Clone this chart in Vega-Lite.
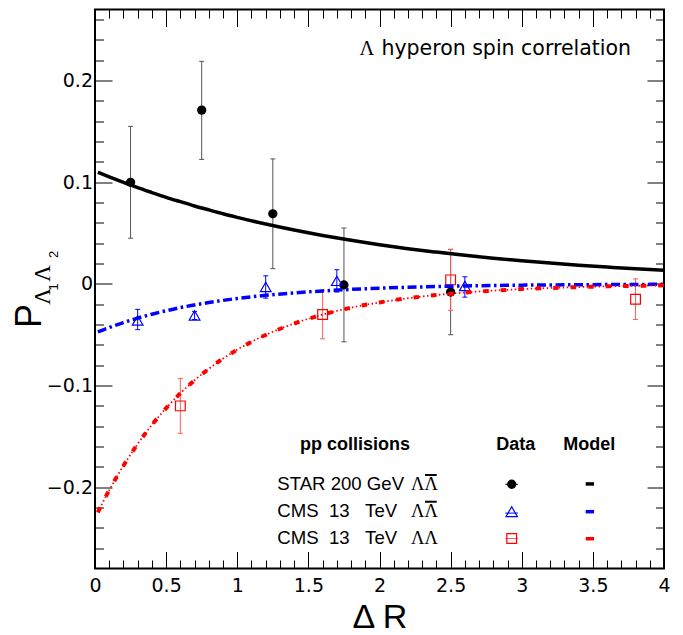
{
  "$schema": "https://vega.github.io/schema/vega-lite/v6.json",
  "width": 569,
  "height": 559,
  "autosize": "none",
  "padding": {"left": 95, "top": 9.5, "right": 19, "bottom": 66.5},
  "background": "white",
  "datasets": {
    "points": [
      {"series": "STAR 200 GeV ΛΛ̄", "x": 0.25, "y": 0.100, "lo": 0.045, "hi": 0.155},
      {"series": "STAR 200 GeV ΛΛ̄", "x": 0.75, "y": 0.171, "lo": 0.1225, "hi": 0.219},
      {"series": "STAR 200 GeV ΛΛ̄", "x": 1.25, "y": 0.069, "lo": 0.015, "hi": 0.123},
      {"series": "STAR 200 GeV ΛΛ̄", "x": 1.75, "y": -0.001, "lo": -0.057, "hi": 0.055},
      {"series": "STAR 200 GeV ΛΛ̄", "x": 2.5, "y": -0.008, "lo": -0.050, "hi": 0.034},
      {"series": "CMS 13 TeV ΛΛ̄", "x": 0.3, "y": -0.036, "lo": -0.045, "hi": -0.025},
      {"series": "CMS 13 TeV ΛΛ̄", "x": 0.7, "y": -0.031, "lo": -0.035, "hi": -0.027},
      {"series": "CMS 13 TeV ΛΛ̄", "x": 1.2, "y": -0.003, "lo": -0.014, "hi": 0.008},
      {"series": "CMS 13 TeV ΛΛ̄", "x": 1.7, "y": 0.003, "lo": -0.008, "hi": 0.014},
      {"series": "CMS 13 TeV ΛΛ̄", "x": 2.6, "y": -0.002, "lo": -0.013, "hi": 0.007},
      {"series": "CMS 13 TeV ΛΛ", "x": 0.6, "y": -0.120, "lo": -0.147, "hi": -0.093},
      {"series": "CMS 13 TeV ΛΛ", "x": 1.6, "y": -0.030, "lo": -0.054, "hi": -0.006},
      {"series": "CMS 13 TeV ΛΛ", "x": 2.5, "y": 0.004, "lo": -0.026, "hi": 0.034},
      {"series": "CMS 13 TeV ΛΛ", "x": 3.8, "y": -0.015, "lo": -0.035, "hi": 0.005}
    ],
    "model_star": [
      {"x": 0.02, "y": 0.1098}, {"x": 0.1, "y": 0.1053}, {"x": 0.2, "y": 0.0999}, {"x": 0.3, "y": 0.0947},
      {"x": 0.4, "y": 0.0899}, {"x": 0.5, "y": 0.0852}, {"x": 0.6, "y": 0.0809}, {"x": 0.7, "y": 0.0767},
      {"x": 0.8, "y": 0.0728}, {"x": 0.9, "y": 0.0690}, {"x": 1.0, "y": 0.0655}, {"x": 1.2, "y": 0.0589},
      {"x": 1.4, "y": 0.0530}, {"x": 1.6, "y": 0.0477}, {"x": 1.8, "y": 0.0429}, {"x": 2.0, "y": 0.0386},
      {"x": 2.2, "y": 0.0347}, {"x": 2.4, "y": 0.0313}, {"x": 2.6, "y": 0.0281}, {"x": 2.8, "y": 0.0253},
      {"x": 3.0, "y": 0.0228}, {"x": 3.2, "y": 0.0205}, {"x": 3.4, "y": 0.0184}, {"x": 3.6, "y": 0.0166},
      {"x": 3.8, "y": 0.0149}, {"x": 4.0, "y": 0.0134}
    ],
    "model_cms_llbar": [
      {"x": 0.02, "y": -0.0473}, {"x": 0.1, "y": -0.0429}, {"x": 0.2, "y": -0.0380}, {"x": 0.3, "y": -0.0336},
      {"x": 0.4, "y": -0.0298}, {"x": 0.5, "y": -0.0264}, {"x": 0.6, "y": -0.0233}, {"x": 0.7, "y": -0.0207},
      {"x": 0.8, "y": -0.0183}, {"x": 0.9, "y": -0.0162}, {"x": 1.0, "y": -0.0143}, {"x": 1.2, "y": -0.0112},
      {"x": 1.4, "y": -0.0088}, {"x": 1.6, "y": -0.0069}, {"x": 1.8, "y": -0.0054}, {"x": 2.0, "y": -0.0042},
      {"x": 2.2, "y": -0.0033}, {"x": 2.4, "y": -0.0026}, {"x": 2.6, "y": -0.0020}, {"x": 2.8, "y": -0.0016},
      {"x": 3.0, "y": -0.0012}, {"x": 3.2, "y": -0.0010}, {"x": 3.4, "y": -0.0008}, {"x": 3.6, "y": -0.0006},
      {"x": 3.8, "y": -0.0005}, {"x": 4.0, "y": -0.0004}
    ],
    "model_cms_ll": [
      {"x": 0.02, "y": -0.2247}, {"x": 0.05, "y": -0.2163}, {"x": 0.1, "y": -0.2030}, {"x": 0.15, "y": -0.1905},
      {"x": 0.2, "y": -0.1788}, {"x": 0.3, "y": -0.1575}, {"x": 0.4, "y": -0.1387}, {"x": 0.5, "y": -0.1222},
      {"x": 0.6, "y": -0.1076}, {"x": 0.7, "y": -0.0948}, {"x": 0.8, "y": -0.0835}, {"x": 0.9, "y": -0.0735},
      {"x": 1.0, "y": -0.0647}, {"x": 1.1, "y": -0.0570}, {"x": 1.2, "y": -0.0502}, {"x": 1.4, "y": -0.0390},
      {"x": 1.6, "y": -0.0302}, {"x": 1.8, "y": -0.0234}, {"x": 2.0, "y": -0.0182}, {"x": 2.2, "y": -0.0141},
      {"x": 2.4, "y": -0.0109}, {"x": 2.6, "y": -0.0085}, {"x": 2.8, "y": -0.0066}, {"x": 3.0, "y": -0.0051},
      {"x": 3.2, "y": -0.0040}, {"x": 3.4, "y": -0.0031}, {"x": 3.6, "y": -0.0024}, {"x": 3.8, "y": -0.0019},
      {"x": 4.0, "y": -0.0014}
    ]
  },
  "resolve": {"axis": {"x": "independent", "y": "independent"}},
  "layer": [
    {
      "data": {"name": "points"},
      "mark": {"type": "rule", "strokeWidth": 1},
      "encoding": {
        "x": {"field": "x", "type": "quantitative", "scale": {"domain": [0, 4], "nice": false, "zero": false},
          "axis": {"orient": "bottom", "values": [0, 0.5, 1, 1.5, 2, 2.5, 3, 3.5, 4], "format": "~g",
            "tickSize": -17, "labelPadding": 24.6, "labelFont": "DejaVu Sans", "labelFontSize": 19,
            "labelFlush": false, "labelOverlap": false, "labelBound": false,
            "title": "Δ R", "titleFont": "Liberation Sans", "titleFontSize": 34, "titleFontWeight": "normal",
            "titleColor": "black", "titleBaseline": "top", "titleY": 32}},
        "y": {"field": "lo", "type": "quantitative", "scale": {"domain": [-0.28, 0.27], "nice": false, "zero": false},
          "axis": {"orient": "left", "values": [-0.2, -0.1, 0, 0.1, 0.2], "format": "~g",
            "tickSize": -17, "labelPadding": 19.5, "labelFont": "DejaVu Sans", "labelFontSize": 19,
            "labelFlush": false, "labelOverlap": false, "labelBound": false,
            "title": "P", "titleFont": "Liberation Sans", "titleFontSize": 36, "titleFontWeight": "normal",
            "titleColor": "black", "titleAngle": -90, "titleBaseline": "bottom", "titleAlign": "center",
            "titleX": -46.7, "titleY": 306}},
        "y2": {"field": "hi"},
        "color": {"field": "series", "type": "nominal", "legend": null,
          "scale": {"domain": ["STAR 200 GeV ΛΛ̄", "CMS 13 TeV ΛΛ̄", "CMS 13 TeV ΛΛ"], "range": ["#555555", "#0000ff", "#ff5c5c"]}}
      }
    },
    {
      "data": {"name": "points"},
      "mark": {"type": "tick", "orient": "horizontal", "size": 5, "thickness": 1, "opacity": 1},
      "encoding": {
        "x": {"field": "x", "type": "quantitative", "scale": {"domain": [0, 4], "nice": false, "zero": false},
          "axis": {"orient": "bottom", "values": [0.1,0.2,0.3,0.4,0.6,0.7,0.8,0.9,1.1,1.2,1.3,1.4,1.6,1.7,1.8,1.9,2.1,2.2,2.3,2.4,2.6,2.7,2.8,2.9,3.1,3.2,3.3,3.4,3.6,3.7,3.8,3.9],
            "tickSize": -8.5, "labels": false, "title": null}},
        "y": {"field": "lo", "type": "quantitative", "scale": {"domain": [-0.28, 0.27], "nice": false, "zero": false},
          "axis": {"orient": "left", "values": [-0.26,-0.24,-0.22,-0.18,-0.16,-0.14,-0.12,-0.08,-0.06,-0.04,-0.02,0.02,0.04,0.06,0.08,0.12,0.14,0.16,0.18,0.22,0.24,0.26],
            "tickSize": -8.5, "labels": false, "title": null}},
        "color": {"field": "series", "type": "nominal", "legend": null,
          "scale": {"domain": ["STAR 200 GeV ΛΛ̄", "CMS 13 TeV ΛΛ̄", "CMS 13 TeV ΛΛ"], "range": ["#555555", "#0000ff", "#ff5c5c"]}}
      }
    },
    {
      "data": {"name": "points"},
      "mark": {"type": "tick", "orient": "horizontal", "size": 5, "thickness": 1, "opacity": 1},
      "encoding": {
        "x": {"field": "x", "type": "quantitative", "scale": {"domain": [0, 4], "nice": false, "zero": false},
          "axis": {"orient": "top", "values": [0, 0.5, 1, 1.5, 2, 2.5, 3, 3.5, 4], "tickSize": -17, "labels": false, "title": null}},
        "y": {"field": "hi", "type": "quantitative", "scale": {"domain": [-0.28, 0.27], "nice": false, "zero": false},
          "axis": {"orient": "right", "values": [-0.2, -0.1, 0, 0.1, 0.2], "tickSize": -17, "labels": false, "title": null}},
        "color": {"field": "series", "type": "nominal", "legend": null,
          "scale": {"domain": ["STAR 200 GeV ΛΛ̄", "CMS 13 TeV ΛΛ̄", "CMS 13 TeV ΛΛ"], "range": ["#555555", "#0000ff", "#ff5c5c"]}}
      }
    },
    {
      "data": {"name": "points"},
      "transform": [{"filter": {"field": "series", "equal": "STAR 200 GeV ΛΛ̄"}}],
      "mark": {"type": "point", "shape": "circle", "filled": true, "color": "black", "size": 86, "opacity": 1},
      "encoding": {
        "x": {"field": "x", "type": "quantitative", "scale": {"domain": [0, 4], "nice": false, "zero": false},
          "axis": {"orient": "top", "values": [0.1,0.2,0.3,0.4,0.6,0.7,0.8,0.9,1.1,1.2,1.3,1.4,1.6,1.7,1.8,1.9,2.1,2.2,2.3,2.4,2.6,2.7,2.8,2.9,3.1,3.2,3.3,3.4,3.6,3.7,3.8,3.9],
            "tickSize": -8.5, "labels": false, "title": null}},
        "y": {"field": "y", "type": "quantitative", "scale": {"domain": [-0.28, 0.27], "nice": false, "zero": false},
          "axis": {"orient": "right", "values": [-0.26,-0.24,-0.22,-0.18,-0.16,-0.14,-0.12,-0.08,-0.06,-0.04,-0.02,0.02,0.04,0.06,0.08,0.12,0.14,0.16,0.18,0.22,0.24,0.26],
            "tickSize": -8.5, "labels": false, "title": null}}
      }
    },
    {
      "data": {"name": "points"},
      "transform": [{"filter": {"field": "series", "equal": "CMS 13 TeV ΛΛ̄"}}],
      "mark": {"type": "point", "shape": "triangle-up", "filled": false, "color": "#0000ff", "strokeWidth": 1.2, "size": 115, "opacity": 1},
      "encoding": {
        "x": {"field": "x", "type": "quantitative", "axis": null},
        "y": {"field": "y", "type": "quantitative", "axis": null}
      }
    },
    {
      "data": {"name": "points"},
      "transform": [{"filter": {"field": "series", "equal": "CMS 13 TeV ΛΛ"}}],
      "mark": {"type": "point", "shape": "square", "filled": false, "color": "#ff0000", "strokeWidth": 1.2, "size": 95, "opacity": 1},
      "encoding": {
        "x": {"field": "x", "type": "quantitative", "axis": null},
        "y": {"field": "y", "type": "quantitative", "axis": null}
      }
    },
    {
      "data": {"name": "model_star"},
      "mark": {"type": "line", "color": "black", "strokeWidth": 3.5, "interpolate": "monotone"},
      "encoding": {
        "x": {"field": "x", "type": "quantitative", "axis": null},
        "y": {"field": "y", "type": "quantitative", "axis": null}
      }
    },
    {
      "data": {"name": "model_cms_llbar"},
      "mark": {"type": "line", "color": "#0000ff", "strokeWidth": 3.5, "strokeDash": [9, 3.5, 2.5, 3.5], "interpolate": "monotone"},
      "encoding": {
        "x": {"field": "x", "type": "quantitative", "axis": null},
        "y": {"field": "y", "type": "quantitative", "axis": null}
      }
    },
    {
      "data": {"name": "model_cms_ll"},
      "mark": {"type": "line", "color": "#ff0000", "strokeWidth": 1.8, "strokeDash": [1.5, 2.5], "interpolate": "monotone"},
      "encoding": {
        "x": {"field": "x", "type": "quantitative", "axis": null},
        "y": {"field": "y", "type": "quantitative", "axis": null}
      }
    },
    {
      "data": {"name": "model_cms_ll"},
      "mark": {"type": "line", "color": "#ff0000", "strokeWidth": 4, "strokeDash": [5.5, 12], "interpolate": "monotone"},
      "encoding": {
        "x": {"field": "x", "type": "quantitative", "axis": null},
        "y": {"field": "y", "type": "quantitative", "axis": null}
      }
    },
    {
      "data": {"values": [{}]},
      "mark": {"type": "text", "text": "Λ", "font": "Liberation Serif", "fontSize": 20.5, "align": "left", "baseline": "alphabetic", "color": "black"},
      "encoding": {"x": {"datum": 1.8594, "type": "quantitative", "axis": null}, "y": {"datum": 0.2252, "type": "quantitative", "axis": null}}
    },
    {
      "data": {"values": [{}]},
      "mark": {"type": "text", "text": "hyperon spin correlation", "font": "DejaVu Sans", "fontSize": 20.5, "align": "left", "baseline": "alphabetic", "color": "black"},
      "encoding": {"x": {"datum": 2.0134, "type": "quantitative", "axis": null}, "y": {"datum": 0.2252, "type": "quantitative", "axis": null}}
    },
    {
      "data": {"values": [{}]},
      "mark": {"type": "text", "text": "Λ", "font": "Liberation Serif", "fontSize": 23, "angle": 270, "align": "center", "baseline": "alphabetic", "color": "black"},
      "encoding": {"x": {"datum": -0.3163, "type": "quantitative", "axis": null}, "y": {"datum": -0.0124, "type": "quantitative", "axis": null}}
    },
    {
      "data": {"values": [{}]},
      "mark": {"type": "text", "text": "1", "font": "Liberation Sans", "fontSize": 13, "angle": 270, "align": "center", "baseline": "alphabetic", "color": "black"},
      "encoding": {"x": {"datum": -0.2566, "type": "quantitative", "axis": null}, "y": {"datum": -0.0030, "type": "quantitative", "axis": null}}
    },
    {
      "data": {"values": [{}]},
      "mark": {"type": "text", "text": "Λ", "font": "Liberation Serif", "fontSize": 23, "angle": 270, "align": "center", "baseline": "alphabetic", "color": "black"},
      "encoding": {"x": {"datum": -0.3163, "type": "quantitative", "axis": null}, "y": {"datum": 0.0103, "type": "quantitative", "axis": null}}
    },
    {
      "data": {"values": [{}]},
      "mark": {"type": "text", "text": "2", "font": "Liberation Sans", "fontSize": 13, "angle": 270, "align": "center", "baseline": "alphabetic", "color": "black"},
      "encoding": {"x": {"datum": -0.2566, "type": "quantitative", "axis": null}, "y": {"datum": 0.0290, "type": "quantitative", "axis": null}}
    },
    {
      "data": {"values": [{}]},
      "mark": {"type": "text", "text": "pp collisions", "font": "Liberation Sans", "fontWeight": "bold", "fontSize": 18, "align": "center", "baseline": "alphabetic", "color": "black"},
      "encoding": {"x": {"datum": 1.8278, "type": "quantitative", "axis": null}, "y": {"datum": -0.1634, "type": "quantitative", "axis": null}}
    },
    {
      "data": {"values": [{}]},
      "mark": {"type": "text", "text": "Data", "font": "Liberation Sans", "fontWeight": "bold", "fontSize": 18, "align": "center", "baseline": "alphabetic", "color": "black"},
      "encoding": {"x": {"datum": 2.9575, "type": "quantitative", "axis": null}, "y": {"datum": -0.1634, "type": "quantitative", "axis": null}}
    },
    {
      "data": {"values": [{}]},
      "mark": {"type": "text", "text": "Model", "font": "Liberation Sans", "fontWeight": "bold", "fontSize": 18, "align": "center", "baseline": "alphabetic", "color": "black"},
      "encoding": {"x": {"datum": 3.4749, "type": "quantitative", "axis": null}, "y": {"datum": -0.1634, "type": "quantitative", "axis": null}}
    },
    {
      "data": {"values": [{}]},
      "mark": {"type": "text", "text": "STAR 200 GeV", "font": "Liberation Sans", "fontSize": 18.6, "align": "left", "baseline": "alphabetic", "color": "black"},
      "encoding": {"x": {"datum": 1.2815, "type": "quantitative", "axis": null}, "y": {"datum": -0.2032, "type": "quantitative", "axis": null}}
    },
    {
      "data": {"values": [{}]},
      "mark": {"type": "text", "text": "CMS\u00a0\u00a013\u00a0\u00a0\u00a0TeV", "font": "Liberation Sans", "fontSize": 18.6, "align": "left", "baseline": "alphabetic", "color": "black"},
      "encoding": {"x": {"datum": 1.2815, "type": "quantitative", "axis": null}, "y": {"datum": -0.2298, "type": "quantitative", "axis": null}}
    },
    {
      "data": {"values": [{}]},
      "mark": {"type": "text", "text": "CMS\u00a0\u00a013\u00a0\u00a0\u00a0TeV", "font": "Liberation Sans", "fontSize": 18.6, "align": "left", "baseline": "alphabetic", "color": "black"},
      "encoding": {"x": {"datum": 1.2815, "type": "quantitative", "axis": null}, "y": {"datum": -0.2559, "type": "quantitative", "axis": null}}
    },
    {
      "data": {"values": [{}]},
      "mark": {"type": "text", "text": "ΛΛ", "font": "Liberation Serif", "fontSize": 18.5, "align": "left", "baseline": "alphabetic", "color": "black"},
      "encoding": {"x": {"datum": 2.2214, "type": "quantitative", "axis": null}, "y": {"datum": -0.2032, "type": "quantitative", "axis": null}}
    },
    {
      "data": {"values": [{}]},
      "mark": {"type": "text", "text": "ΛΛ", "font": "Liberation Serif", "fontSize": 18.5, "align": "left", "baseline": "alphabetic", "color": "black"},
      "encoding": {"x": {"datum": 2.2214, "type": "quantitative", "axis": null}, "y": {"datum": -0.2298, "type": "quantitative", "axis": null}}
    },
    {
      "data": {"values": [{}]},
      "mark": {"type": "text", "text": "ΛΛ", "font": "Liberation Serif", "fontSize": 18.5, "align": "left", "baseline": "alphabetic", "color": "black"},
      "encoding": {"x": {"datum": 2.2214, "type": "quantitative", "axis": null}, "y": {"datum": -0.2559, "type": "quantitative", "axis": null}}
    },
    {
      "data": {"values": [{}]},
      "mark": {"type": "rule", "color": "black", "strokeWidth": 2},
      "encoding": {"x": {"datum": 2.3199, "type": "quantitative", "axis": null}, "x2": {"datum": 2.4021}, "y": {"datum": -0.1880, "type": "quantitative", "axis": null}}
    },
    {
      "data": {"values": [{}]},
      "mark": {"type": "rule", "color": "black", "strokeWidth": 2},
      "encoding": {"x": {"datum": 2.3199, "type": "quantitative", "axis": null}, "x2": {"datum": 2.4021}, "y": {"datum": -0.2143, "type": "quantitative", "axis": null}}
    },
    {
      "data": {"values": [{}]},
      "mark": {"type": "rule", "color": "black", "strokeWidth": 1},
      "encoding": {"x": {"datum": 2.8843, "type": "quantitative", "axis": null}, "x2": {"datum": 2.9736}, "y": {"datum": -0.1971, "type": "quantitative", "axis": null}}
    },
    {
      "data": {"values": [{}]},
      "mark": {"type": "rule", "color": "#0000ff", "strokeWidth": 1},
      "encoding": {"x": {"datum": 2.8843, "type": "quantitative", "axis": null}, "x2": {"datum": 2.9736}, "y": {"datum": -0.2255, "type": "quantitative", "axis": null}}
    },
    {
      "data": {"values": [{}]},
      "mark": {"type": "rule", "color": "#ff5c5c", "strokeWidth": 1},
      "encoding": {"x": {"datum": 2.8843, "type": "quantitative", "axis": null}, "x2": {"datum": 2.9736}, "y": {"datum": -0.2505, "type": "quantitative", "axis": null}}
    },
    {
      "data": {"values": [{}]},
      "mark": {"type": "point", "shape": "circle", "filled": true, "color": "black", "size": 86, "opacity": 1},
      "encoding": {"x": {"datum": 2.9293, "type": "quantitative", "axis": null}, "y": {"datum": -0.1971, "type": "quantitative", "axis": null}}
    },
    {
      "data": {"values": [{}]},
      "mark": {"type": "point", "shape": "triangle-up", "filled": false, "color": "#0000ff", "strokeWidth": 1.2, "size": 130, "opacity": 1},
      "encoding": {"x": {"datum": 2.9293, "type": "quantitative", "axis": null}, "y": {"datum": -0.2241, "type": "quantitative", "axis": null}}
    },
    {
      "data": {"values": [{}]},
      "mark": {"type": "point", "shape": "square", "filled": false, "color": "#ff0000", "strokeWidth": 1.2, "size": 95, "opacity": 1},
      "encoding": {"x": {"datum": 2.9293, "type": "quantitative", "axis": null}, "y": {"datum": -0.2505, "type": "quantitative", "axis": null}}
    },
    {
      "data": {"values": [{}]},
      "mark": {"type": "rule", "color": "black", "strokeWidth": 3.5},
      "encoding": {"x": {"datum": 3.4495, "type": "quantitative", "axis": null}, "x2": {"datum": 3.5079}, "y": {"datum": -0.1968, "type": "quantitative", "axis": null}}
    },
    {
      "data": {"values": [{}]},
      "mark": {"type": "rule", "color": "#0000ff", "strokeWidth": 3.5},
      "encoding": {"x": {"datum": 3.4495, "type": "quantitative", "axis": null}, "x2": {"datum": 3.5079}, "y": {"datum": -0.2241, "type": "quantitative", "axis": null}}
    },
    {
      "data": {"values": [{}]},
      "mark": {"type": "rule", "color": "#ff0000", "strokeWidth": 3.5},
      "encoding": {"x": {"datum": 3.4495, "type": "quantitative", "axis": null}, "x2": {"datum": 3.5079}, "y": {"datum": -0.2507, "type": "quantitative", "axis": null}}
    }
  ],
  "config": {
    "view": {"stroke": "black", "strokeWidth": 2},
    "axis": {"domain": false, "grid": false, "tickColor": "black", "tickWidth": 1, "labelColor": "black"}
  }
}
